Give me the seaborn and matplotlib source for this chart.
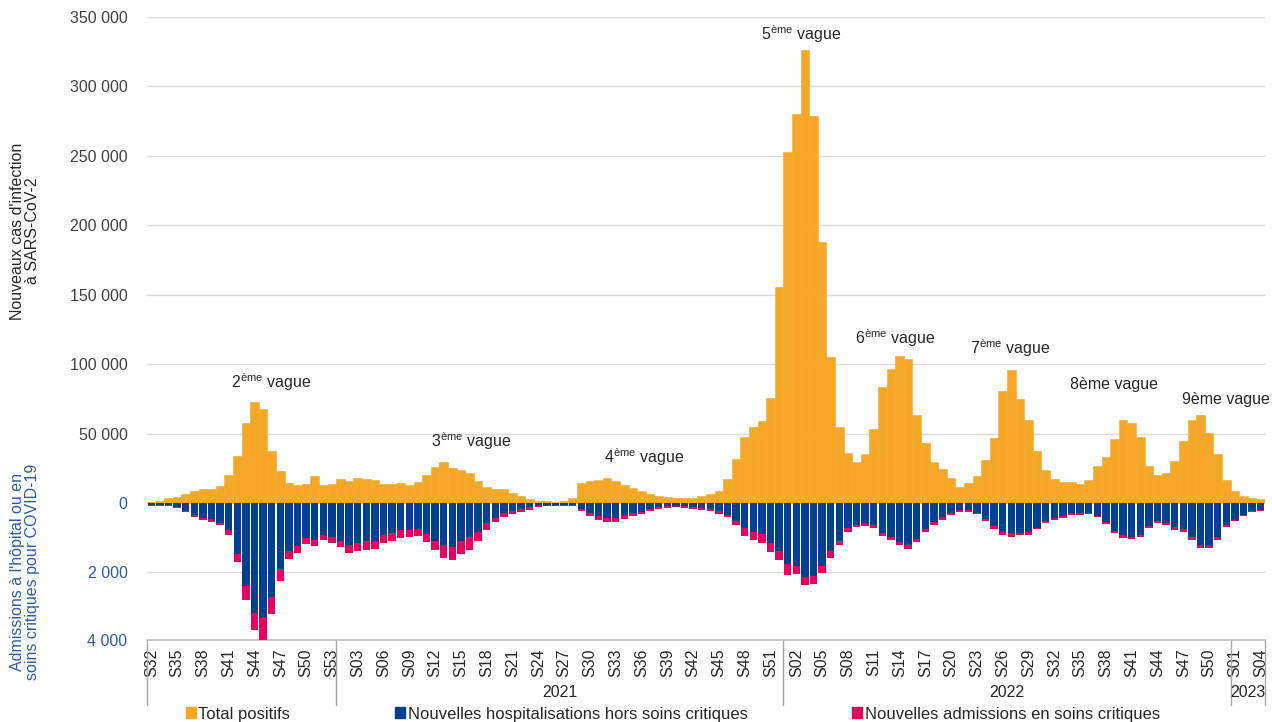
import matplotlib
matplotlib.use('Agg')
import matplotlib.pyplot as plt
import matplotlib.transforms as mtransforms
from matplotlib.patches import Patch
import seaborn as sns
import pandas as pd
import numpy as np

# Semaines couvertes par le graphique
years = [2020, 2021, 2022, 2023]
first_week = [32, 1, 1, 1]
last_week = [53, 52, 52, 4]
year_labels = ['', '2021', '2022', '2023']

# Total positifs (nouveaux cas hebdomadaires)
cas_2020 = [1000, 1700, 3300, 4500, 6400, 8300, 9800, 10200, 11900, 20200, 33800,
            57800, 72400, 67600, 37400, 23100, 14500, 13100, 13800, 19300, 12900, 13800]
cas_2021 = [17200, 16000, 17800, 17400, 16500, 13500, 13900, 14200, 13000, 15100,
            19900, 25800, 29200, 25000, 24000, 21300, 15600, 11500, 9800, 9800,
            7200, 5300, 2900, 1700, 1100, 1000, 1400, 3500, 14200, 16000,
            16400, 18300, 15600, 13100, 10500, 8500, 6500, 5200, 4300, 3600,
            3500, 3900, 4700, 6500, 8600, 17600, 31800, 47800, 54500, 58800,
            75400, 155700]
cas_2022 = [252900, 279900, 326000, 278400, 188200, 105000, 54800, 36300, 29600, 35300,
            53600, 83700, 96300, 106000, 103500, 63700, 43500, 29200, 24700, 18000,
            11300, 14600, 19400, 31100, 46900, 80700, 95500, 75200, 60000, 37100,
            24000, 17500, 15000, 14800, 14000, 16400, 26500, 33100, 46000, 60100,
            57700, 47200, 27000, 20200, 21700, 30400, 44600, 59700, 63200, 50300,
            35300, 16800]
cas_2023 = [8600, 5200, 3600, 2700]

# Nouvelles hospitalisations hors soins critiques
hosp_2020 = [70, 70, 70, 115, 220, 340, 435, 465, 570, 790, 1480,
             2435, 3210, 3360, 2735, 1940, 1400, 1265, 1025, 1090, 930, 995]
hosp_2021 = [1100, 1220, 1170, 1100, 1150, 930, 880, 785, 785, 765,
             900, 1100, 1235, 1280, 1100, 1005, 860, 593, 430, 306,
             240, 180, 125, 86, 57, 48, 48, 48, 180, 306,
             383, 450, 450, 354, 287, 250, 170, 130, 88, 80,
             90, 105, 145, 175, 235, 340, 540, 740, 860, 918,
             1175, 1390]
hosp_2022 = [1790, 1830, 2170, 2140, 1840, 1400, 1100, 725, 645, 605,
             655, 890, 1000, 1140, 1230, 1040, 760, 560, 423, 303,
             212, 212, 281, 460, 680, 840, 890, 885, 860, 725,
             531, 435, 386, 300, 300, 280, 377, 560, 821, 937,
             995, 928, 686, 531, 580, 705, 773, 985, 1227, 1227,
             985, 638]
hosp_2023 = [483, 338, 241, 212]

# Nouvelles admissions en soins critiques
sc_2020 = [20, 20, 20, 30, 40, 60, 75, 85, 85, 130, 250,
           385, 490, 640, 505, 330, 240, 195, 185, 165, 150, 165]
sc_2021 = [190, 230, 230, 260, 190, 230, 240, 240, 220, 210,
           250, 260, 365, 395, 375, 355, 260, 192, 135, 114,
           95, 80, 65, 39, 39, 29, 29, 29, 50, 67,
           105, 115, 115, 124, 105, 80, 75, 55, 47, 50,
           45, 60, 55, 60, 75, 80, 115, 220, 230, 242,
           245, 285]
sc_2022 = [300, 250, 210, 220, 190, 210, 140, 115, 67, 60,
           65, 75, 90, 100, 100, 100, 90, 75, 65, 54,
           55, 43, 44, 55, 65, 85, 90, 57, 68, 48,
           58, 48, 49, 38, 38, 29, 38, 48, 58, 77,
           68, 67, 58, 58, 67, 78, 77, 87, 87, 87,
           87, 67]
sc_2023 = [48, 29, 20, 10]

# Vagues annotées: texte, semaine (index) et hauteur
vagues = [r'2$^{\mathrm{ème}}$ vague', r'3$^{\mathrm{ème}}$ vague', r'4$^{\mathrm{ème}}$ vague',
          r'5$^{\mathrm{ème}}$ vague', r'6$^{\mathrm{ème}}$ vague', r'7$^{\mathrm{ème}}$ vague',
          '8ème vague', '9ème vague']
vague_pos = [(14.0, 87000), (37.2, 44600), (57.3, 33100), (75.6, 338000),
             (86.5, 118800), (99.9, 111600), (112.0, 85000), (124.9, 74200)]

ORANGE = '#F5A828'
BLUE = '#00418F'
PINK = '#E8005F'
LBLUE = '#2E5C9E'
GRID = '#D9D9D9'

# Build table
sem, yr = [], []
for y, a, b in zip(years, first_week, last_week):
    for w in range(a, b + 1):
        sem.append(f'S{w:02d}')
        yr.append(y)
df = pd.DataFrame({
    'semaine': [f'{y}-{s}' for y, s in zip(yr, sem)],
    'cas': cas_2020 + cas_2021 + cas_2022 + cas_2023,
    'hosp': hosp_2020 + hosp_2021 + hosp_2022 + hosp_2023,
    'sc': sc_2020 + sc_2021 + sc_2022 + sc_2023,
})
df['hosp_neg'] = -df['hosp']
df['adm_neg'] = -(df['hosp'] + df['sc'])
n = len(df)

sns.set_theme(style='white')
plt.rcParams['font.family'] = ['Liberation Sans', 'DejaVu Sans']
plt.rcParams['mathtext.fontset'] = 'custom'
plt.rcParams['mathtext.rm'] = 'Liberation Sans'
plt.rcParams['mathtext.it'] = 'Liberation Sans:italic'

fig = plt.figure(figsize=(12.72, 7.22), dpi=100)
ax = fig.add_axes([147 / 1272, 82 / 722, 1118 / 1272, 623 / 722])
ax2 = ax.twinx()

sns.barplot(data=df, x='semaine', y='cas', color=ORANGE, saturation=1, width=1.0,
            edgecolor=ORANGE, linewidth=0.4, errorbar=None, ax=ax)
sns.barplot(data=df, x='semaine', y='adm_neg', color=PINK, saturation=1, width=0.86,
            linewidth=0, errorbar=None, ax=ax2)
sns.barplot(data=df, x='semaine', y='hosp_neg', color=BLUE, saturation=1, width=0.86,
            linewidth=0, errorbar=None, ax=ax2)

# Axes alignment: zero shared, 350 000 on top, 4 000 at bottom
frac = 137 / 486
ax.set_ylim(-350000 * frac, 350000)
ax2.set_ylim(-4000, 4000 / frac)
ax.set_xlim(-0.5, n - 0.5)

up_ticks = list(range(50000, 350001, 50000))
ax.set_yticks(up_ticks)
ax.set_yticklabels([f'{v:,}'.replace(',', ' ') for v in up_ticks])
ax.yaxis.grid(True, color=GRID, lw=1)
ax.set_axisbelow(True)
ax.tick_params(axis='y', length=0, pad=14, labelsize=11.5, colors='#404040')

low_ticks = [0, -2000, -4000]
ax2.yaxis.tick_left()
ax2.set_yticks(low_ticks)
ax2.set_yticklabels([f'{abs(v):,}'.replace(',', ' ') for v in low_ticks])
ax2.tick_params(axis='y', length=0, pad=14, labelsize=11.5, colors=LBLUE)
ax2.axhline(-2000, color=GRID, lw=1, zorder=0)

for a in (ax, ax2):
    for s in ('top', 'right', 'left'):
        a.spines[s].set_visible(False)
    a.set_xlabel('')
    a.set_ylabel('')
ax2.spines['bottom'].set_visible(False)
ax.spines['bottom'].set_color('#BFBFBF')

ax.set_xticks(range(0, n, 3))
ax.set_xticklabels(sem[::3], rotation=90)
ax.tick_params(axis='x', length=0, pad=6, labelsize=11.5, colors='#262626')

# Year separators and labels
trans = mtransforms.blended_transform_factory(ax.transData, ax.transAxes)
counts = [b - a + 1 for a, b in zip(first_week, last_week)]
bounds = np.concatenate([[0], np.cumsum(counts)]) - 0.5
for b in bounds:
    ax.plot([b, b], [0, -0.104], transform=trans, color='#A6A6A6', lw=1, clip_on=False)
for lab, l, r in zip(year_labels, bounds[:-1], bounds[1:]):
    ax.text((l + r) / 2, -0.085, lab, transform=trans, ha='center', va='center',
            fontsize=11.5, color='#262626')

# Wave annotations
for txt, (x, y) in zip(vagues, vague_pos):
    ax.text(x, y, txt, ha='center', va='center', fontsize=11.5, color='#262626')

fig.text(25 / 1272, 1 - 231 / 722, "Nouveaux cas d'infection\nà SARS-CoV-2", rotation=90,
         ha='center', va='center', multialignment='center', linespacing=1.0,
         fontsize=11.5, color='#262626')
fig.text(25 / 1272, 1 - 572 / 722, "Admissions à l'hôpital ou en\nsoins critiques pour COVID-19",
         rotation=90, ha='center', va='center', multialignment='center', linespacing=1.0,
         fontsize=11.5, color=LBLUE)

handles = [Patch(color=ORANGE), Patch(color=BLUE), Patch(color=PINK)]
labels = ['Total positifs', 'Nouvelles hospitalisations hors soins critiques',
          'Nouvelles admissions en soins critiques']
fig.legend(handles, labels, loc='center', bbox_to_anchor=(0.529, 0.011), ncol=3,
           frameon=False, fontsize=12, handlelength=0.6, handleheight=0.6,
           handletextpad=0.15, columnspacing=6.3, borderpad=0, borderaxespad=0)

fig.savefig('out.png', dpi=100)
plt.close(fig)
